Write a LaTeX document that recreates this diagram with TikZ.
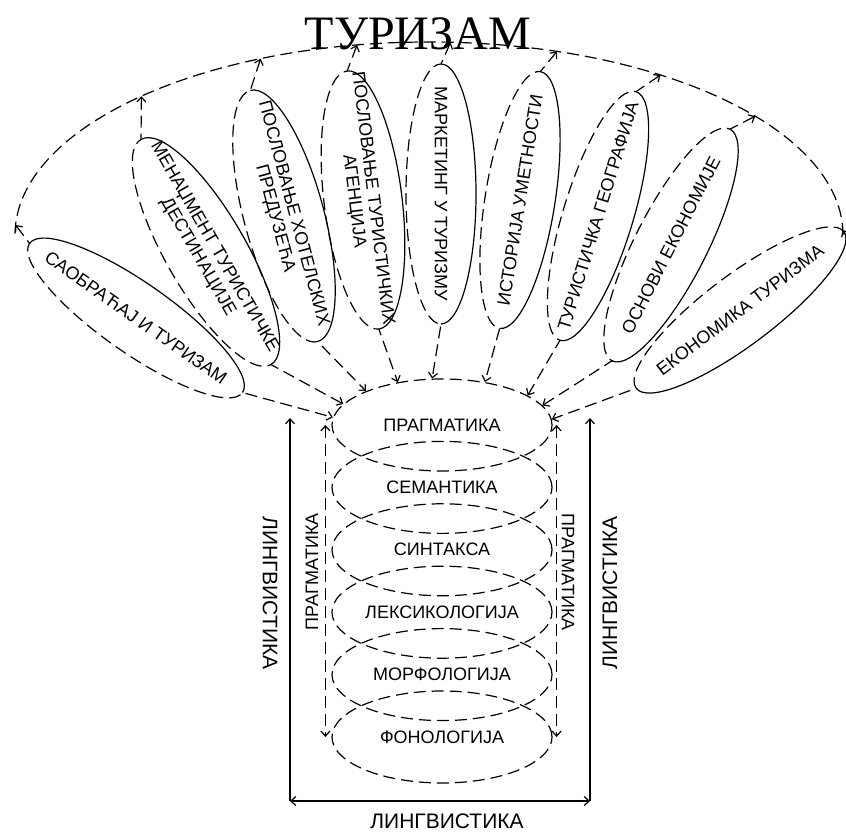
\documentclass[tikz,border=0pt]{standalone}
\usepackage{fontspec}
\setmainfont{Liberation Sans}
\newfontfamily\titlefont{Liberation Serif}
\usetikzlibrary{arrows.meta}
\usetikzlibrary{shapes.geometric}

\begin{document}
\begin{tikzpicture}[x=1pt, y=1pt, line width=1.2pt,
    >={Straight Barb[length=5pt,width=9pt]},
    dashlink/.style={dash pattern=on 12pt off 6pt, <->},
    stackell/.style={ellipse, draw, dash pattern=on 12pt off 6pt, minimum width=220pt, minimum height=92pt, inner sep=0pt, font=\fontsize{18}{19}\selectfont},
    subjtext/.style={align=center, inner sep=0pt, font=\fontsize{18}{19}\selectfont},
    sidetext/.style={inner sep=0pt, font=\fontsize{21}{23}\selectfont}]
    \useasboundingbox (0,0) rectangle (846,832);

    \draw (418, 782) node[anchor=base, inner sep=0pt, font=\titlefont\fontsize{48}{50}\selectfont] (title) {ТУРИЗАМ};

    \foreach \i/\txt in {0/ПРАГМАТИКА, 1/СЕМАНТИКА, 2/СИНТАКСА, 3/ЛЕКСИКОЛОГИЈА, 4/МОРФОЛОГИЈА, 5/ФОНОЛОГИЈА}{
        \draw (442, 407 - 62.4*\i) node[stackell] (l\i) {\makebox[0pt]{\txt}};
    }

    \coordinate (hub) at (429, 597);
    \draw[dash pattern=on 12pt off 6pt] (hub) ++(0:414 and 193) arc[start angle=0, end angle=180, x radius=414, y radius=193];

    \foreach \name/\cx/\cy/\ang/\rx/\rot/\atip/\ptip/\txt in {
        s1/136/514/55/35/-35/177/176/{САОБРАЋАЈ И ТУРИЗАМ},
        s2/206/580/30/40/-60/134/168/{МЕНАЏМЕНТ ТУРИСТИЧКЕ\\ДЕСТИНАЦИЈЕ},
        s3/284/616/15/40/-75/114/156/{ПОСЛОВАЊЕ ХОТЕЛСКИХ\\ПРЕДУЗЕЋА},
        s4/363/632/7/39/-83/100/136/{ПОСЛОВАЊЕ ТУРИСТИЧКИХ\\АГЕНЦИЈА},
        s5/441/638/0/35/-90/87/102/{МАРКЕТИНГ У ТУРИЗМУ},
        s6/520/632/-9/35/81/72/45/{ИСТОРИЈА УМЕТНОСТИ},
        s7/598/616/-17/35/73/56/19/{ТУРИСТИЧКА ГЕОГРАФИЈА},
        s8/671/587/-27/36/63/38/11/{ОСНОВИ ЕКОНОМИЈЕ},
        s9/740/522/-53/35/37/1.5/3/{ЕКОНОМИКА ТУРИЗМА}}{
        \path (hub) ++(\atip:414 and 193) coordinate (a\name);
        \begin{scope}[shift={(\cx,\cy)}, rotate=\ang]
            \draw (0,130) arc[start angle=90, end angle=-90, x radius=\rx, y radius=130];
            \draw[dashlink] (a\name) -- (0,130) arc[start angle=90, end angle=270, x radius=\rx, y radius=130] -- (l0.\ptip);
        \end{scope}
        \draw (\cx,\cy) node[subjtext, rotate=\rot] (\name) {\txt};
    }

    \draw[dashlink] ([xshift=-6pt]l0.west) -- ([xshift=-6pt]l5.west);
    \draw[dashlink] ([xshift=4pt]l0.east) -- ([xshift=4pt]l5.east);
    \draw (312, 260) node[subjtext, rotate=90] (pragl) {ПРАГМАТИКА};
    \draw (568, 260) node[subjtext, rotate=-90] (pragr) {ПРАГМАТИКА};

    \coordinate (bl) at (290, 31);
    \coordinate (br) at (590, 31);
    \coordinate (tl) at (290, 414);
    \coordinate (tr) at (590, 414);
    \draw[->] (bl) -- (tl);
    \draw[->] (br) -- (tr);
    \draw[<->] (bl) -- (br);
    \draw (270, 239) node[sidetext, rotate=-90] (lingl) {ЛИНГВИСТИКА};
    \draw (610, 239) node[sidetext, rotate=90] (lingr) {ЛИНГВИСТИКА};
    \draw (447, 11) node[sidetext] (lingb) {ЛИНГВИСТИКА};
\end{tikzpicture}
\end{document}
